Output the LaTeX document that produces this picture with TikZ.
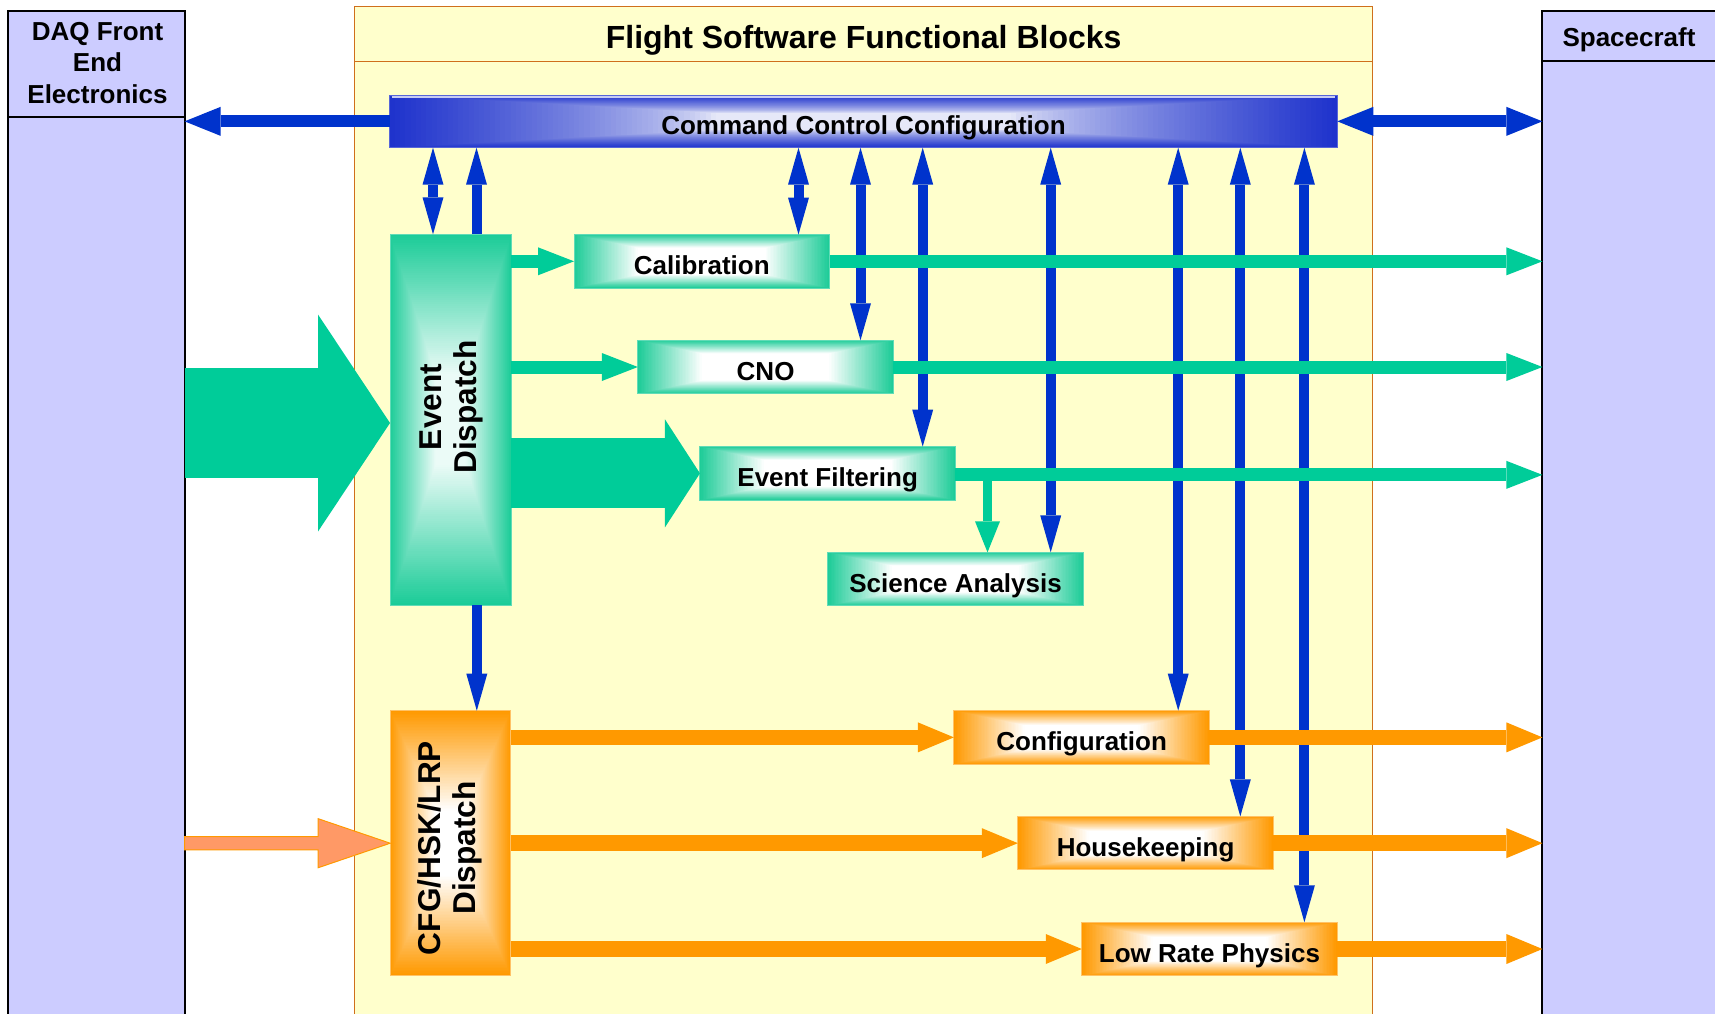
\documentclass[tikz,border=0pt]{standalone}
\usepackage{fontspec}
\setmainfont{Liberation Sans}
\usetikzlibrary{arrows.meta,calc}
\definecolor{lav}{HTML}{CCCCFF}
\definecolor{mainfill}{HTML}{FFFFCC}
\definecolor{mainborder}{HTML}{CF6F1C}
\definecolor{blue0}{HTML}{0033CC}
\definecolor{barblue}{HTML}{1F33CC}
\definecolor{barlight}{HTML}{E6E8F8}
\definecolor{grn}{HTML}{00CC99}
\definecolor{grnbox}{HTML}{1ECC98}
\definecolor{org}{HTML}{FF9900}
\definecolor{salmon}{HTML}{FF9966}
% #1 edge colour, #2 centre colour, #3 cut-off fraction, #4 exponent
\newcommand\gradfill[4]{%
  \foreach \gi in {0,...,89}{%
    \pgfmathsetmacro\gfA{\gi/180}%
    \pgfmathsetmacro\gfC{100*pow(max(0.00001,1-min(1,\gi/(90*#3))),#4)}%
    \fill[#1!\gfC!#2] ($(path picture bounding box.south west)!\gfA!(path picture bounding box.north east)$) rectangle ($(path picture bounding box.north east)!\gfA!(path picture bounding box.south west)$);
  }}
\tikzset{
  lbl/.style={font=\fontsize{26}{31.7}\selectfont\bfseries, text height=26pt, text depth=0pt},
  rlbl/.style={font=\fontsize{31.6}{35}\selectfont\bfseries, align=center, rotate=90, inner sep=0pt},
  extbox/.style={draw=black, line width=2pt, fill=lav, inner sep=0pt, outer sep=0pt},
  gbox/.style={draw=grnbox!70!white, line width=1pt, inner sep=0pt, outer sep=0pt, lbl,
    minimum width=255.5pt, minimum height=53.5pt, path picture={\gradfill{grnbox}{white}{0.5}{1}}},
  obox/.style={draw=org!60!white, line width=1pt, inner sep=0pt, outer sep=0pt, lbl,
    minimum width=255.5pt, minimum height=53.5pt, path picture={\gradfill{org}{white}{0.55}{1}}},
  BT/.tip={Triangle[length=37pt,width=21pt,line width=0pt]},
  BH/.tip={Triangle[length=36pt,width=29pt,line width=0pt]},
  GT/.tip={Triangle[length=36pt,width=28pt,line width=0pt]},
  OT/.tip={Triangle[length=36pt,width=30pt,line width=0pt]},
  bv/.style={draw=blue0, line width=10pt},
  bh/.style={draw=blue0, line width=12pt},
  gline/.style={draw=grn, line width=13pt, -GT},
  oline/.style={draw=org, line width=15.5pt, -OT},
}
\begin{document}
\begin{tikzpicture}[x=1pt,y=-1pt]
\useasboundingbox (0,0) rectangle (1715,1013);
\clip (0,0) rectangle (1715,1013);
\fill[white] (0,0) rectangle (1715,1013);
% outer boxes
\node[extbox, minimum width=176.2pt, minimum height=1014pt] (daq) at (96.5,518) {};
\draw[line width=2pt] (daq.west |- 0,117.3) -- (daq.east |- 0,117.3);
\node[font=\fontsize{26}{31.7}\selectfont\bfseries, align=center, inner sep=0pt] (daql) at (97.5,63) {DAQ Front\\End\\Electronics};
\node[extbox, minimum width=182.6pt, minimum height=1014pt] (sc) at (1633.7,518) {};
\draw[line width=2pt] (sc.west |- 0,61.3) -- (sc.east |- 0,61.3);
\node[font=\fontsize{26}{31.7}\selectfont\bfseries, text height=18.7pt, text depth=0pt, inner sep=0pt] (scl) at (1629,37.5) {Spacecraft};
\node[draw=mainborder, fill=mainfill, line width=1.5pt, inner sep=0pt, outer sep=0pt, minimum width=1018.2pt, minimum height=1013.3pt] (main) at (863.6,513.35) {};
\draw[draw=mainborder, line width=1.5pt] (main.west |- 0,61.3) -- (main.east |- 0,61.3);
\node[font=\fontsize{32}{38}\selectfont\bfseries, text height=28.9pt, text depth=0pt, inner sep=0pt] (title) at (863.6,34) {Flight Software Functional Blocks};
% command bar
\node[draw=barblue!75!white, line width=1pt, inner sep=0pt, outer sep=0pt, lbl, minimum width=947.7pt, minimum height=52.7pt,
  path picture={\gradfill{barblue}{barlight}{0.68}{0.7}}] (ccc) at (863.45,121.35) {Command Control Configuration};
\draw[white!75!barblue, line width=1.5pt] ($(ccc.north west)+(2,2.2)$) -- ($(ccc.north east)+(-2,2.2)$);
% green boxes
\node[draw=grnbox!70!white, line width=1pt, inner sep=0pt, outer sep=0pt, minimum width=121.3pt, minimum height=370.7pt,
  path picture={\gradfill{grnbox}{white!92!grn}{0.75}{1}}] (ed) at (450.65,419.65) {};
\node[rlbl] (edl) at (451,407) {Event\\Dispatch};
\node[gbox] (cal) at (701.75,261.3) {Calibration};
\node[gbox] (cno) at (765.6,367) {CNO};
\node[gbox] (ef) at (827.7,473.35) {Event Filtering};
\node[gbox] (sa) at (955.6,579.1) {Science Analysis};
% orange boxes
\node[draw=org!60!white, line width=1pt, inner sep=0pt, outer sep=0pt, minimum width=120.5pt, minimum height=265pt,
  path picture={\gradfill{org}{white}{0.75}{1}}] (cfgd) at (450.45,843.2) {};
\node[rlbl] (cfgl) at (450.3,848) {CFG/HSK/LRP\\Dispatch};
\node[obox] (conf) at (1081.65,737.35) {Configuration};
\node[obox] (hk) at (1145.6,843.15) {Housekeeping};
\node[obox] (lrp) at (1209.5,949) {Low Rate Physics};
% blue control links
\draw[bv, BT-BT] (433,0 |- ed.north) -- (433,0 |- ccc.south);
\draw[bv, -BT] (476.5,0 |- ed.north) -- (476.5,0 |- ccc.south);
\draw[bv, -BT] (476.8,0 |- ed.south) -- (476.8,0 |- cfgd.north);
\draw[bv, BT-BT] (798.5,0 |- cal.north) -- (798.5,0 |- ccc.south);
\draw[bv, BT-BT] (860.5,0 |- cno.north) -- (860.5,0 |- ccc.south);
\draw[bv, BT-BT] (922.7,0 |- ef.north) -- (922.7,0 |- ccc.south);
\draw[bv, BT-BT] (1050.7,0 |- sa.north) -- (1050.7,0 |- ccc.south);
\draw[bv, BT-BT] (1178.2,0 |- conf.north) -- (1178.2,0 |- ccc.south);
\draw[bv, BT-BT] (1240.3,0 |- hk.north) -- (1240.3,0 |- ccc.south);
\draw[bv, BT-BT] (1304.4,0 |- lrp.north) -- (1304.4,0 |- ccc.south);
\draw[bh, -BH] (ccc.west) -- (daq.east |- ccc.west);
\draw[bh, BH-BH] (ccc.east) -- (sc.west |- ccc.east);
% big inputs
\draw[draw=grn, line width=110pt, -{Triangle[length=72pt,width=217pt,line width=0pt]}] (daq.east |- 0,423) -- (ed.west |- 0,423);
\draw[draw=grn, line width=70pt, -{Triangle[length=35pt,width=108pt,line width=0pt]}] (ed.east |- ef.west) -- (ef.west);
\coordinate (oin) at (daq.east |- cfgd.west);
\draw[fill=salmon, draw=org, line width=1pt] ($(oin)+(0,-6.7)$) -- ($(cfgd.west)+(-72,-6.7)$) -- ($(cfgd.west)+(-72,-24.5)$) -- (cfgd.west) -- ($(cfgd.west)+(-72,24.5)$) -- ($(cfgd.west)+(-72,6.7)$) -- ($(oin)+(0,6.7)$) -- cycle;
% green data flow
\draw[gline] (ed.east |- cal.west) -- (cal.west);
\draw[gline] (ed.east |- cno.west) -- (cno.west);
\draw[gline] (cal.east) -- (sc.west |- cal.east);
\draw[gline] (cno.east) -- (sc.west |- cno.east);
\draw[gline] ($(ef.east)+(0,1.5)$) -- ($(sc.west |- ef.east)+(0,1.5)$);
\coordinate (efs) at (987.5,0 |- ef.east);
\draw[draw=grn, line width=9pt, -{Triangle[length=31pt,width=25pt,line width=0pt]}] (efs) -- (efs |- sa.north);
% orange data flow
\draw[oline] (cfgd.east |- conf.west) -- (conf.west);
\draw[oline] (cfgd.east |- hk.west) -- (hk.west);
\draw[oline] (cfgd.east |- lrp.west) -- (lrp.west);
\draw[oline] (conf.east) -- (sc.west |- conf.east);
\draw[oline] (hk.east) -- (sc.west |- hk.east);
\draw[oline] (lrp.east) -- (sc.west |- lrp.east);
\end{tikzpicture}
\end{document}
